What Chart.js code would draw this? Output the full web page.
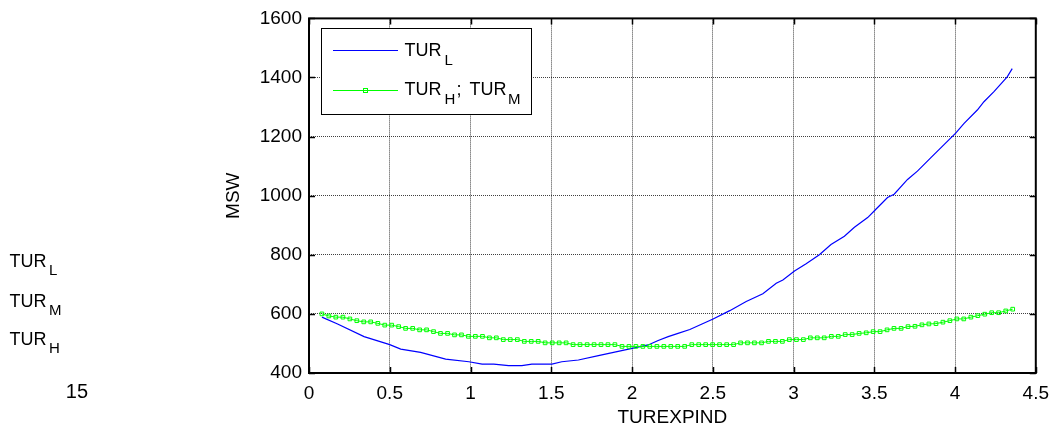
<!DOCTYPE html>
<html>
<head>
<meta charset="utf-8">
<script src="https://cdn.jsdelivr.net/npm/chart.js@4.4.0/dist/chart.umd.min.js"></script>
<style>
  html, body { margin: 0; padding: 0; background: #fff; }
  #wrap { position: relative; width: 1058px; height: 433px; overflow: hidden; font-family: "Liberation Sans", Arial, sans-serif; color: #000; }
  #c { position: absolute; left: 0; top: 0; }
  .t { position: absolute; line-height: 1; white-space: pre; }
  .m { font-size: 18px; }
  .s { font-size: 15px; }
</style>
</head>
<body>
<div id="wrap">
  <canvas id="c" width="1058" height="433"></canvas>
  <!-- stray labels on the left -->
  <span class="t m" style="left:9.6px;top:251.5px">TUR</span><span class="t s" style="left:49px;top:262.3px">L</span>
  <span class="t m" style="left:9.6px;top:291.5px">TUR</span><span class="t s" style="left:49px;top:302.3px">M</span>
  <span class="t m" style="left:9.6px;top:329.8px">TUR</span><span class="t s" style="left:49px;top:340.3px">H</span>
  <span class="t" style="left:65.8px;top:381px;font-size:20px">15</span>
  <!-- legend texts -->
  <span class="t m" style="left:404.6px;top:40.8px">TUR</span><span class="t s" style="left:444.6px;top:52.3px">L</span>
  <span class="t m" style="left:404.6px;top:79.8px">TUR</span><span class="t s" style="left:444.6px;top:91.3px">H</span><span class="t m" style="left:456.5px;top:79.8px">;</span><span class="t m" style="left:469.6px;top:79.8px">TUR</span><span class="t s" style="left:508px;top:91.3px">M</span>
</div>
<script>
// ---- data ----
const xTicks = [0, 0.5, 1, 1.5, 2, 2.5, 3, 3.5, 4, 4.5];
const yTicks = [400, 600, 800, 1000, 1200, 1400, 1600];

// TUR_H; TUR_M (green, square markers)
const greenX = [0.080,0.123,0.166,0.210,0.253,0.296,0.339,0.382,0.426,0.469,
  0.512,0.555,0.598,0.642,0.685,0.728,0.771,0.814,0.858,0.901,
  0.944,0.987,1.030,1.074,1.117,1.160,1.203,1.246,1.290,1.333,
  1.376,1.419,1.462,1.506,1.549,1.592,1.635,1.678,1.722,1.765,
  1.808,1.851,1.894,1.938,1.981,2.024,2.067,2.110,2.154,2.197,
  2.240,2.283,2.326,2.370,2.413,2.456,2.499,2.542,2.586,2.629,
  2.672,2.715,2.758,2.802,2.845,2.888,2.931,2.974,3.018,3.061,
  3.104,3.147,3.190,3.234,3.277,3.320,3.363,3.406,3.450,3.493,
  3.536,3.579,3.622,3.666,3.709,3.752,3.795,3.838,3.882,3.925,
  3.968,4.011,4.054,4.098,4.141,4.184,4.227,4.270,4.314,4.357];
const greenY = [600,593,589,589,583,577,573,573,568,562,
  562,557,551,551,546,546,540,534,534,529,
  529,524,524,524,519,519,513,513,513,507,
  507,507,502,502,502,502,496,496,496,496,
  496,496,496,490,490,490,490,490,490,490,
  490,490,490,496,496,496,496,496,496,496,
  502,502,502,502,507,507,507,513,513,513,
  519,519,519,524,524,530,530,534,536,540,
  540,546,551,551,557,558,563,566,567,572,
  577,583,583,589,594,599,604,604,610,616];

// TUR_L (blue)
const blueX = [0.080,0.177,0.341,0.500,0.568,0.691,0.846,0.990,1.072,1.144,
  1.236,1.318,1.380,1.504,1.565,1.668,1.792,1.936,2.008,2.100,
  2.162,2.224,2.285,2.358,2.502,2.605,2.707,2.810,2.893,2.934,
  3.006,3.078,3.160,3.232,3.315,3.377,3.459,3.510,3.582,3.623,
  3.706,3.767,3.849,3.932,4.004,4.056,4.138,4.179,4.241,4.323,4.354];
const blueY = [589,566,523,496,481,470,447,438,430,430,
  425,425,430,430,438,444,459,476,484,495,
  510,523,534,547,583,611,642,668,704,715,
  745,770,800,835,863,893,926,954,994,1005,
  1055,1083,1128,1173,1212,1245,1290,1318,1352,1402,1430];

const FONT = '"Liberation Sans", Arial, sans-serif';

const frame = {
  id: 'frame',
  afterDraw(chart) {
    const ctx = chart.ctx;
    const a = chart.chartArea;
    const xs = chart.scales.x, ys = chart.scales.y;
    ctx.save();
    ctx.strokeStyle = '#000';
    ctx.lineWidth = 2;
    ctx.strokeRect(a.left, a.top, a.right - a.left, a.bottom - a.top);
    ctx.lineWidth = 1.5;
    const L = 6;
    ctx.beginPath();
    xTicks.forEach(v => {
      const px = Math.round(xs.getPixelForValue(v)) + 0.5;
      ctx.moveTo(px, a.bottom); ctx.lineTo(px, a.bottom - L);
      ctx.moveTo(px, a.top); ctx.lineTo(px, a.top + L);
    });
    yTicks.forEach(v => {
      const py = Math.round(ys.getPixelForValue(v)) + 0.5;
      ctx.moveTo(a.left, py); ctx.lineTo(a.left + L, py);
      ctx.moveTo(a.right, py); ctx.lineTo(a.right - L, py);
    });
    ctx.stroke();

    // legend box
    ctx.fillStyle = '#fff';
    ctx.fillRect(321, 28, 210, 86);
    ctx.lineWidth = 1;
    ctx.strokeStyle = '#000';
    ctx.strokeRect(321.5, 28.5, 210, 86);
    ctx.lineWidth = 1;
    ctx.strokeStyle = '#0000ff';
    ctx.beginPath(); ctx.moveTo(333, 50.5); ctx.lineTo(398, 50.5); ctx.stroke();
    ctx.strokeStyle = '#00ff00';
    ctx.beginPath(); ctx.moveTo(333, 90.5); ctx.lineTo(398, 90.5); ctx.stroke();
    ctx.strokeRect(363.5, 88.5, 4, 4);
    ctx.restore();
  }
};

new Chart(document.getElementById('c'), {
  type: 'line',
  data: {
    datasets: [
      {
        label: 'TUR_H; TUR_M',
        data: greenX.map((x, i) => ({ x: x, y: greenY[i] })),
        borderColor: '#00ff00',
        borderWidth: 1,
        pointStyle: 'rect',
        pointRadius: 2.6,
        pointBorderWidth: 1,
        pointBorderColor: '#00ff00',
        pointBackgroundColor: 'rgba(0,0,0,0)',
        tension: 0,
        order: 0
      },
      {
        label: 'TUR_L',
        data: blueX.map((x, i) => ({ x: x, y: blueY[i] })),
        borderColor: '#0000ff',
        borderWidth: 1.2,
        pointRadius: 0,
        tension: 0,
        order: 1
      }
    ]
  },
  options: {
    responsive: false,
    animation: false,
    devicePixelRatio: 1,
    layout: { padding: { left: 0, right: 16, top: 17, bottom: 0 } },
    plugins: { legend: { display: false }, tooltip: { enabled: false } },
    scales: {
      x: {
        type: 'linear',
        min: 0, max: 4.5,
        afterFit(s) { s.height = 60; },
        afterBuildTicks(s) { s.ticks = xTicks.map(v => ({ value: v })); },
        ticks: { color: '#000', font: { family: FONT, size: 19 }, padding: 9, maxRotation: 0, autoSkip: false, callback: v => String(v) },
        grid: { color: 'rgba(0,0,0,0.75)', lineWidth: 1, drawTicks: false },
        border: { display: false, dash: [1, 1] },
        title: { display: true, text: 'TUREXPIND', color: '#000', font: { family: FONT, size: 19 }, padding: { top: 0, bottom: 4 } }
      },
      y: {
        min: 400, max: 1600,
        afterFit(s) { s.width = 309; },
        afterBuildTicks(s) { s.ticks = yTicks.map(v => ({ value: v })); },
        ticks: { color: '#000', font: { family: FONT, size: 19 }, padding: 7, callback: v => String(v) },
        grid: { color: 'rgba(0,0,0,0.75)', lineWidth: 1, drawTicks: false },
        border: { display: false, dash: [1, 1] },
        title: { display: true, text: 'MSW', color: '#000', font: { family: FONT, size: 19 }, padding: { top: 222.6, bottom: 0 } }
      }
    }
  },
  plugins: [frame]
});
</script>
</body>
</html>
